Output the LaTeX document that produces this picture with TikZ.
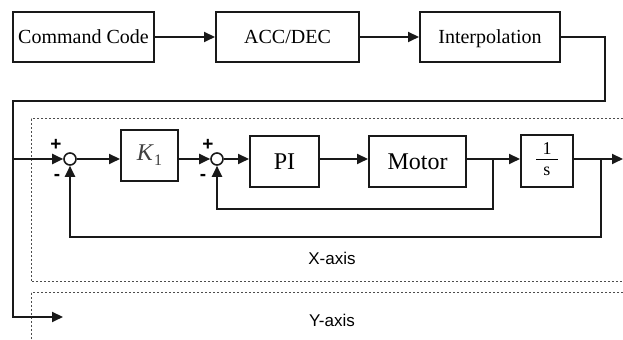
\documentclass[tikz,border=0pt]{standalone}
\usepackage{fontspec}
\setmainfont{Liberation Serif}
\newfontfamily\labelfont{Liberation Sans}
\usetikzlibrary{arrows.meta}

\tikzset{
  wire/.style={line width=1pt, draw=black!90},
  sig/.style={wire, -{Triangle[length=5.5pt,width=5pt]}},
  blk/.style={draw=black!90, line width=1pt, inner sep=0pt, align=center},
  topblk/.style={blk, minimum height=25pt, text height=8pt, text depth=1pt,
    font=\fontsize{10}{12}\selectfont},
  midblk/.style={blk, minimum height=25.5pt, font=\fontsize{12}{14}\selectfont},
  sumpt/.style={circle, draw=black!90, line width=0.8pt, minimum size=6pt, inner sep=0pt, fill=white},
  sgn/.style={font=\labelfont\bfseries\fontsize{9.5}{10}\selectfont, inner sep=0pt},
  axisbox/.style={draw=black!70, line width=0.5pt, dash pattern=on 1.2pt off 0.8pt},
  axislabel/.style={font=\labelfont\fontsize{8.5}{10}\selectfont, inner sep=0pt}
}

\begin{document}
\begin{tikzpicture}[x=0.5pt, y=-0.5pt]
  \clip (0,0) rectangle (623,340);
  \fill[white] (0,0) rectangle (623,340);

  % axis groups
  \draw[axisbox] (31,119) rectangle (660,282);
  \draw[axisbox] (31,293) rectangle (660,380);
  \node[axislabel] (xlab) at (332,258) {X-axis};
  \node[axislabel] (ylab) at (332,320) {Y-axis};

  % command chain
  \node[topblk, minimum width=70.5pt] (cmd) at (83.5,37) {Command Code};
  \node[topblk, minimum width=71.5pt] (acc) at (287.5,37) {ACC/DEC};
  \node[topblk, minimum width=70pt] (interp) at (490,37) {Interpolation};
  \draw[sig] (cmd) -- (acc);
  \draw[sig] (acc) -- (interp);

  % distribution to the axes
  \coordinate (c1) at (605,101);
  \coordinate (lt) at (13,101);
  \coordinate (lb) at (13,317);
  \coordinate (yin) at (63,317);
  \draw[sig] (interp.east) -| (c1) -- (lt) -- (lb) -- (yin);

  % X-axis loop
  \node[sumpt] (sum1) at (70,159) {};
  \node[midblk, minimum width=28.5pt] (k1) at (149.5,155.5)
    {\textcolor{black!75}{\textit{K}\raisebox{-0.45ex}{\fontsize{8}{9}\selectfont 1}}};
  \node[sumpt] (sum2) at (217,159) {};
  \node[midblk, minimum width=34.5pt] (pi) at (284.5,161.5) {PI};
  \node[midblk, minimum width=48.5pt] (motor) at (417.5,161.5) {Motor};
  \node[midblk, minimum width=26pt, minimum height=26pt] (integ) at (547,161)
    {\fontsize{9}{10}\selectfont\begin{tabular}{@{\hspace{3pt}}c@{\hspace{3pt}}}1\\[-1pt]\hline\rule{0pt}{8pt}s\end{tabular}};

  \node[sgn] (p1) at (56,145) {+};
  \node[sgn] (m1) at (57,177) {-};
  \node[sgn] (p2) at (208,145) {+};
  \node[sgn] (m2) at (203,177) {-};

  \coordinate (out) at (623,159);
  \coordinate (b1) at (493,159);
  \coordinate (b2) at (601,159);
  \coordinate (f1) at (493,209);
  \coordinate (f2) at (601,237);

  \draw[sig] (lt |- sum1) -- (sum1.west);
  \draw[sig] (sum1.east) -- (k1.west |- sum1);
  \draw[sig] (k1.east |- sum1) -- (sum2.west);
  \draw[sig] (sum2.east) -- (pi.west |- sum2);
  \draw[sig] (pi.east |- sum2) -- (motor.west |- sum2);
  \draw[sig] (motor.east |- sum2) -- (integ.west |- sum2);
  \draw[sig] (integ.east |- sum2) -- (out);

  % feedback paths
  \draw[sig] (b1) -- (f1) -| (sum2.south);
  \draw[sig] (b2) -- (f2) -| (sum1.south);
\end{tikzpicture}
\end{document}
